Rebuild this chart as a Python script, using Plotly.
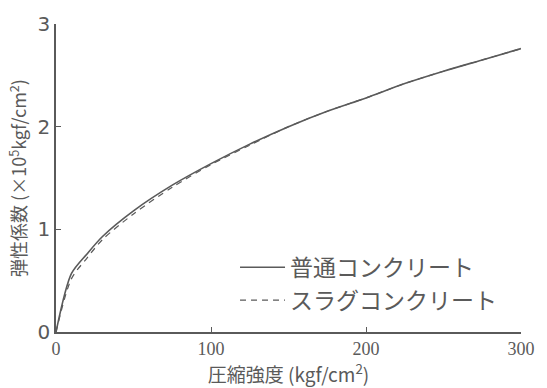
import plotly.graph_objects as go

# Compressive strength (kgf/cm2) vs modulus of elasticity (x10^5 kgf/cm2)
strength = [0, 10, 20, 30, 50, 75, 100, 125, 150, 175, 200, 225, 250, 275, 300]
normal_E = [0, 0.57, 0.76, 0.93, 1.18, 1.43, 1.64, 1.83, 2.00, 2.15, 2.28, 2.42, 2.54, 2.65, 2.76]
slag_E = [0, 0.52, 0.72, 0.90, 1.15, 1.41, 1.63, 1.82, 2.00, 2.15, 2.28, 2.42, 2.54, 2.65, 2.76]

series_names = ["普通コンクリート", "スラグコンクリート"]
x_ticks = [0, 100, 200, 300]
y_ticks = [0, 1, 2, 3]

ink = "#5a5a5a"
font_family = "Noto Sans CJK JP, DejaVu Sans, sans-serif"

fig = go.Figure()
fig.add_trace(go.Scatter(
    x=strength, y=normal_E, mode="lines", name=series_names[0],
    line=dict(color=ink, width=1.6, shape="spline", smoothing=0.8),
))
fig.add_trace(go.Scatter(
    x=strength, y=slag_E, mode="lines", name=series_names[1],
    line=dict(color=ink, width=1.2, dash="6px,5px", shape="spline", smoothing=0.8),
))

fig.update_layout(
    width=547, height=388,
    margin=dict(l=56, r=26, t=20, b=56),
    paper_bgcolor="white", plot_bgcolor="white",
    font=dict(family=font_family, color=ink, size=16),
    showlegend=True,
    legend=dict(
        x=0.385, y=0.28, xanchor="left", yanchor="top",
        bgcolor="rgba(0,0,0,0)", borderwidth=0,
        font=dict(size=23, color=ink), itemwidth=45,
        tracegroupgap=0,
    ),
)
fig.update_xaxes(
    range=[0, 300], tickvals=x_ticks, ticktext=[str(v) for v in x_ticks],
    showgrid=False, zeroline=False, showline=True, linecolor=ink, linewidth=1.5,
    ticks="inside", ticklen=5, tickcolor=ink,
    tickfont=dict(size=18, family="Liberation Serif, serif", color=ink),
    title=dict(text="圧縮強度 (kgf/cm<sup>2</sup>)", font=dict(size=19), standoff=0),
)
fig.update_yaxes(
    range=[0, 3], tickvals=y_ticks, ticktext=[str(v) for v in y_ticks],
    showgrid=False, zeroline=False, showline=True, linecolor=ink, linewidth=1.5,
    ticks="inside", ticklen=5, tickcolor=ink,
    tickfont=dict(size=20, family="DejaVu Sans, sans-serif", color=ink),
    title=dict(text="弾性係数 (×10<sup>5</sup>kgf/cm<sup>2</sup>)", font=dict(size=18), standoff=6),
)

fig.write_html("out.html")
